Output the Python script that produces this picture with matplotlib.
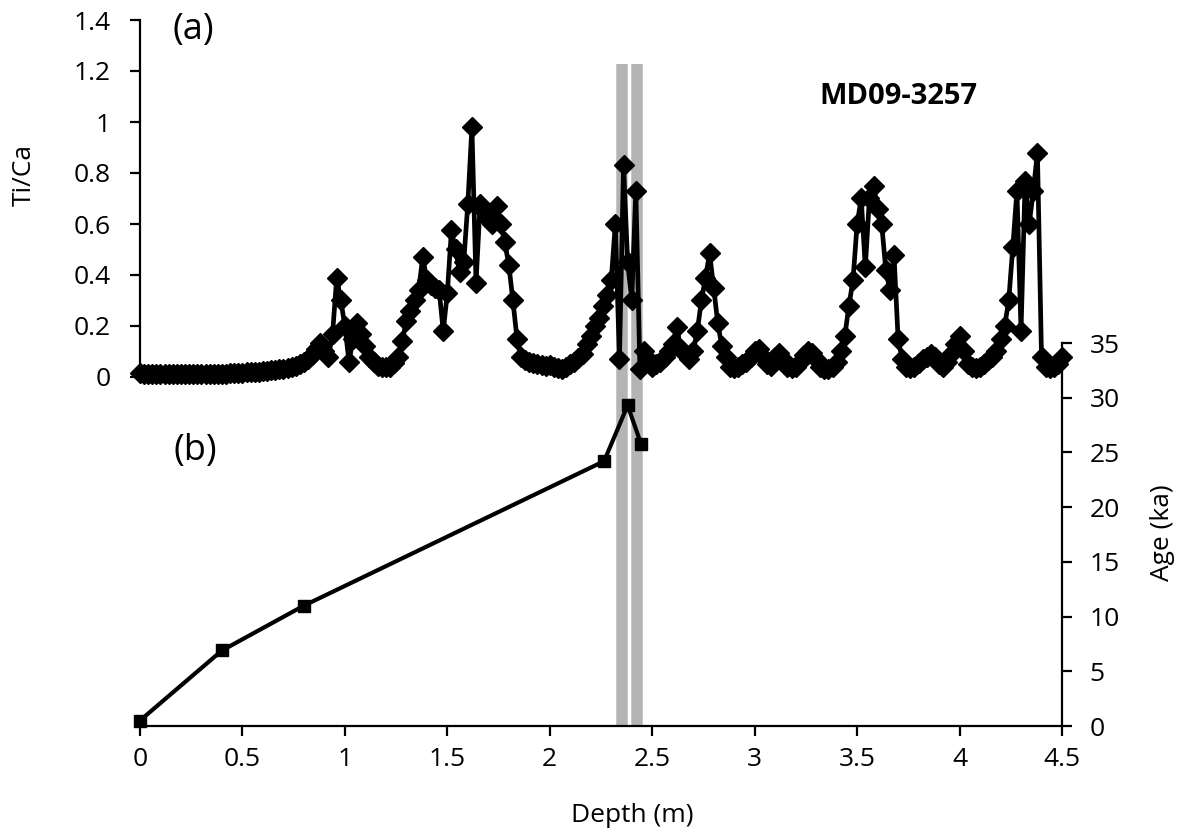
import matplotlib
matplotlib.use("Agg")
import matplotlib.pyplot as plt

# ---------------- data ----------------
depth_m = [
    0.00, 0.02, 0.04, 0.06, 0.08, 0.10, 0.12, 0.14, 0.16, 0.18,
    0.20, 0.22, 0.24, 0.26, 0.28, 0.30, 0.32, 0.34, 0.36, 0.38,
    0.40, 0.42, 0.44, 0.46, 0.48, 0.50, 0.52, 0.54, 0.56, 0.58,
    0.60, 0.62, 0.64, 0.66, 0.68, 0.70, 0.72, 0.74, 0.76, 0.78,
    0.80, 0.82, 0.84, 0.86, 0.88, 0.90, 0.92, 0.94, 0.96, 0.98,
    1.00, 1.02, 1.04, 1.06, 1.08, 1.10, 1.12, 1.14, 1.16, 1.18,
    1.20, 1.22, 1.24, 1.26, 1.28, 1.30, 1.32, 1.34, 1.36, 1.38,
    1.40, 1.42, 1.44, 1.46, 1.48, 1.50, 1.52, 1.54, 1.56, 1.58,
    1.60, 1.62, 1.64, 1.66, 1.68, 1.70, 1.72, 1.74, 1.76, 1.78,
    1.80, 1.82, 1.84, 1.86, 1.88, 1.90, 1.92, 1.94, 1.96, 1.98,
    2.00, 2.02, 2.04, 2.06, 2.08, 2.10, 2.12, 2.14, 2.16, 2.18,
    2.20, 2.22, 2.24, 2.26, 2.28, 2.30, 2.32, 2.34, 2.36, 2.38,
    2.40, 2.42, 2.44, 2.46, 2.48, 2.50, 2.52, 2.54, 2.56, 2.58,
    2.60, 2.62, 2.64, 2.66, 2.68, 2.70, 2.72, 2.74, 2.76, 2.78,
    2.80, 2.82, 2.84, 2.86, 2.88, 2.90, 2.92, 2.94, 2.96, 2.98,
    3.00, 3.02, 3.04, 3.06, 3.08, 3.10, 3.12, 3.14, 3.16, 3.18,
    3.20, 3.22, 3.24, 3.26, 3.28, 3.30, 3.32, 3.34, 3.36, 3.38,
    3.40, 3.42, 3.44, 3.46, 3.48, 3.50, 3.52, 3.54, 3.56, 3.58,
    3.60, 3.62, 3.64, 3.66, 3.68, 3.70, 3.72, 3.74, 3.76, 3.78,
    3.80, 3.82, 3.84, 3.86, 3.88, 3.90, 3.92, 3.94, 3.96, 3.98,
    4.00, 4.02, 4.04, 4.06, 4.08, 4.10, 4.12, 4.14, 4.16, 4.18,
    4.20, 4.22, 4.24, 4.26, 4.28, 4.30, 4.32, 4.34, 4.36, 4.38,
    4.40, 4.42, 4.44, 4.46, 4.48, 4.50,
]

ti_ca = [
    0.015, 0.012, 0.011, 0.011, 0.010, 0.010, 0.010, 0.010, 0.010, 0.010,
    0.010, 0.010, 0.010, 0.010, 0.011, 0.011, 0.011, 0.012, 0.012, 0.012,
    0.013, 0.013, 0.014, 0.015, 0.016, 0.017, 0.018, 0.019, 0.020, 0.021,
    0.022, 0.024, 0.026, 0.028, 0.030, 0.033, 0.036, 0.040, 0.045, 0.052,
    0.060, 0.070, 0.085, 0.110, 0.135, 0.100, 0.080, 0.170, 0.390, 0.300,
    0.200, 0.060, 0.150, 0.210, 0.170, 0.120, 0.080, 0.060, 0.045, 0.040,
    0.038, 0.040, 0.055, 0.080, 0.140, 0.220, 0.260, 0.300, 0.340, 0.470,
    0.380, 0.360, 0.350, 0.340, 0.180, 0.330, 0.575, 0.500, 0.410, 0.450,
    0.680, 0.980, 0.370, 0.680, 0.650, 0.620, 0.600, 0.670, 0.600, 0.530,
    0.440, 0.300, 0.150, 0.080, 0.065, 0.060, 0.055, 0.050, 0.048, 0.045,
    0.048, 0.040, 0.035, 0.030, 0.040, 0.050, 0.060, 0.075, 0.090, 0.130,
    0.160, 0.200, 0.230, 0.280, 0.320, 0.380, 0.600, 0.070, 0.830, 0.450,
    0.300, 0.730, 0.030, 0.100, 0.070, 0.040, 0.050, 0.060, 0.080, 0.100,
    0.130, 0.195, 0.110, 0.090, 0.070, 0.100, 0.180, 0.300, 0.390, 0.485,
    0.350, 0.210, 0.120, 0.080, 0.040, 0.035, 0.040, 0.050, 0.060, 0.080,
    0.100, 0.110, 0.080, 0.050, 0.045, 0.080, 0.095, 0.070, 0.040, 0.035,
    0.040, 0.060, 0.085, 0.100, 0.095, 0.070, 0.040, 0.030, 0.030, 0.040,
    0.060, 0.100, 0.160, 0.280, 0.380, 0.600, 0.700, 0.430, 0.700, 0.750,
    0.660, 0.600, 0.420, 0.340, 0.480, 0.150, 0.070, 0.040, 0.035, 0.040,
    0.055, 0.070, 0.080, 0.090, 0.080, 0.050, 0.040, 0.060, 0.090, 0.130,
    0.160, 0.100, 0.050, 0.040, 0.035, 0.040, 0.050, 0.065, 0.080, 0.100,
    0.150, 0.200, 0.300, 0.510, 0.730, 0.180, 0.770, 0.600, 0.730, 0.880,
    0.080, 0.040, 0.035, 0.040, 0.050, 0.080,
]

age_depth_m = [0.0, 0.4, 0.8, 2.265, 2.38, 2.445]
age_ka = [0.5, 6.9, 11.0, 24.2, 29.3, 25.8]

band_ranges = [(2.328, 2.377), (2.401, 2.450)]

x_ticks = [0, 0.5, 1, 1.5, 2, 2.5, 3, 3.5, 4, 4.5]
x_ticklabels = ["0", "0.5", "1", "1.5", "2", "2.5", "3", "3.5", "4", "4.5"]
ti_ticks = [0, 0.2, 0.4, 0.6, 0.8, 1.0, 1.2, 1.4]
ti_ticklabels = ["0", "0.2", "0.4", "0.6", "0.8", "1", "1.2", "1.4"]
age_ticks = [0, 5, 10, 15, 20, 25, 30, 35]

# ---------------- figure ----------------
plt.rcParams["font.family"] = ["Open Sans", "DejaVu Sans"]
W, H = 1184, 836
fig = plt.figure(figsize=(W / 100, H / 100), dpi=100)

def fbox(x0, y0, x1, y1):
    return [x0 / W, 1 - y1 / H, (x1 - x0) / W, (y1 - y0) / H]

ax2 = fig.add_axes(fbox(140, 343, 1062, 726))   # age panel (b)
ax1 = fig.add_axes(fbox(140, 20, 1062, 377))    # Ti/Ca panel (a)
ax1.set_zorder(3)
ax1.patch.set_visible(False)

tick_fs = 19

# --- panel (b): age model ---
ax2.set_xlim(0, 4.5)
ax2.set_ylim(0, 35)
span_top = (726 - 64) / (726 - 343)
for (a, b) in band_ranges:
    ax2.axvspan(a - 0.007, b + 0.007, ymin=0, ymax=span_top, color="#e2e2e2",
                lw=0, zorder=0, clip_on=False)
    ax2.axvspan(a - 0.003, b + 0.003, ymin=0, ymax=span_top, color="#c8c8c8",
                lw=0, zorder=0.3, clip_on=False)
    ax2.axvspan(a + 0.002, b - 0.002, ymin=0, ymax=span_top, color="#b4b4b4",
                lw=0, zorder=0.5, clip_on=False)
ax2.plot(age_depth_m, age_ka, color="black", lw=3.0, marker="s",
         markersize=8.5, zorder=3, clip_on=False)
for s in ["top", "left"]:
    ax2.spines[s].set_visible(False)
for s in ["bottom", "right"]:
    ax2.spines[s].set_linewidth(1.6)
ax2.yaxis.tick_right()
ax2.yaxis.set_label_position("right")
ax2.set_yticks(age_ticks)
ax2.set_yticklabels([str(v) for v in age_ticks])
ax2.set_xticks(x_ticks)
ax2.set_xticklabels(x_ticklabels)
ax2.tick_params(axis="both", direction="out", length=7, width=1.6,
                labelsize=tick_fs)
ax2.tick_params(axis="y", pad=13)
ax2.tick_params(axis="x", pad=8)
ax2.set_ylabel("Age (ka)", fontsize=tick_fs, rotation=90)
ax2.yaxis.set_label_coords(1.0954, 0.505)
ax2.set_xlabel("Depth (m)", fontsize=tick_fs)
ax2.xaxis.set_label_coords(0.534, -0.201)
ax2.text(0.060, 0.717, "(b)", transform=ax2.transAxes, fontsize=26,
         ha="center", va="center")

# --- panel (a): Ti/Ca ---
ax1.set_xlim(0, 4.5)
ax1.set_ylim(0, 1.4)
ax1.plot(depth_m, ti_ca, color="black", lw=3.4, marker="D", markersize=10,
         zorder=3, clip_on=False)
for s in ["top", "right", "bottom"]:
    ax1.spines[s].set_visible(False)
ax1.spines["left"].set_linewidth(1.6)
ax1.set_xticks([])
ax1.set_yticks(ti_ticks)
ax1.set_yticklabels(ti_ticklabels)
ax1.tick_params(axis="y", direction="out", length=7, width=1.6,
                labelsize=tick_fs, pad=14)
ax1.set_ylabel("Ti/Ca", fontsize=tick_fs)
ax1.yaxis.set_label_coords(-0.112, 0.567)
ax1.text(0.0575, 0.972, "(a)", transform=ax1.transAxes, fontsize=26,
         ha="center", va="center")
ax1.text(0.823, 0.787, "MD09-3257", transform=ax1.transAxes, fontsize=21,
         fontweight="bold", ha="center", va="center")

fig.savefig("out.png", dpi=100)
